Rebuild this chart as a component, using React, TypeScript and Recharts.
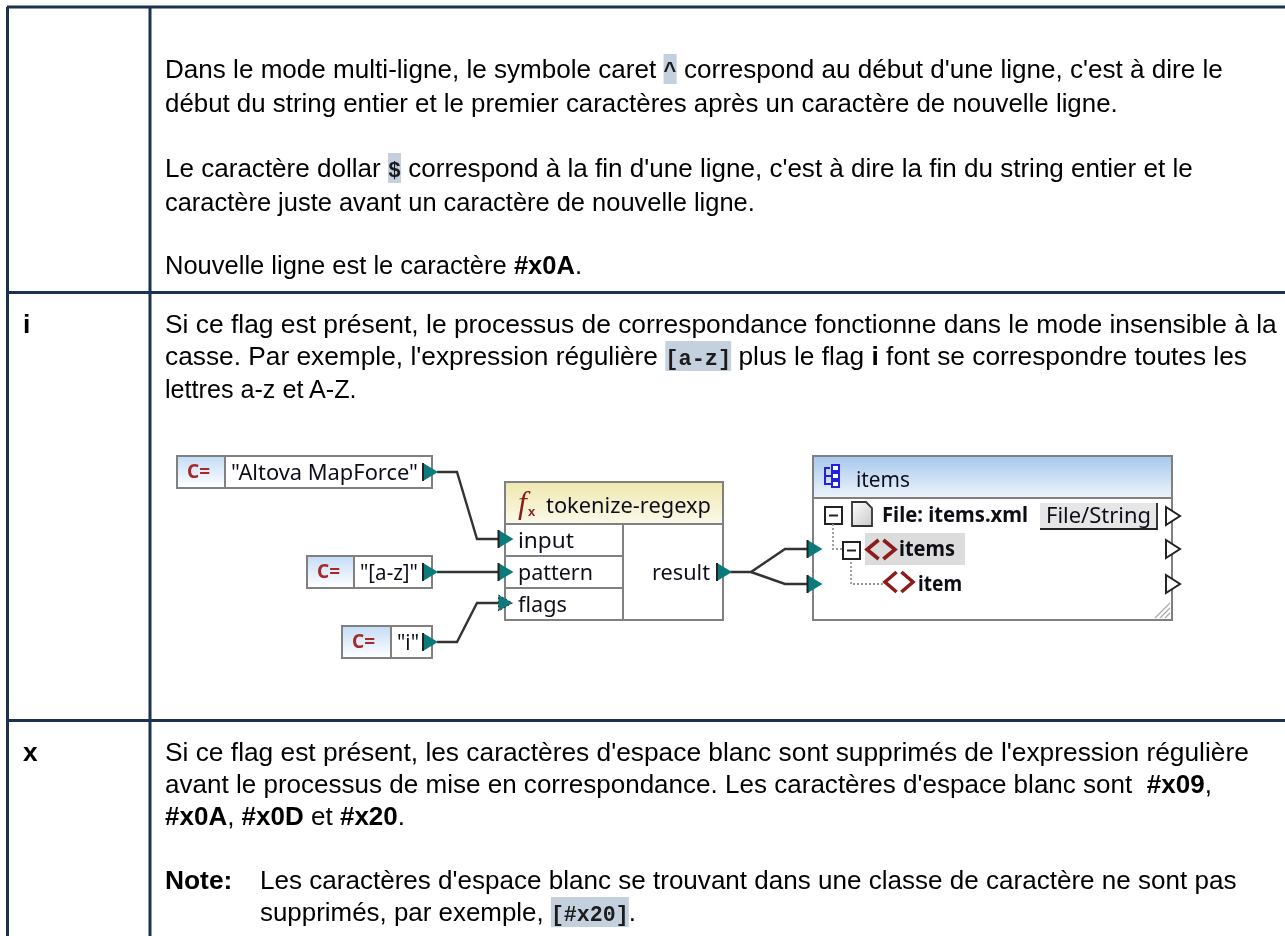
import React from "react";
import { ComposedChart, Customized, XAxis, YAxis, Scatter } from "recharts";

const W = 1285, H = 936;
const RULE = "#1b3350";
const WIRE = "#333333";
const TEAL = "#0b7a7a";
const RED = "#8c1c1c";

// table rules
const ruleLeft = [{ x: 7.5, y: 7 }, { x: 7.5, y: 936 }];
const ruleColumn = [{ x: 150, y: 7 }, { x: 150, y: 936 }];
const ruleTop = [{ x: 7, y: 7 }, { x: 1285, y: 7 }];
const ruleRow2 = [{ x: 7, y: 292.5 }, { x: 1285, y: 292.5 }];
const ruleRow3 = [{ x: 7, y: 720.5 }, { x: 1285, y: 720.5 }];

// mapping connectors
const wireAltova = [{ x: 437, y: 472 }, { x: 457, y: 472 }, { x: 477, y: 539 }, { x: 500, y: 539 }];
const wirePattern = [{ x: 437, y: 572 }, { x: 500, y: 572 }];
const wireFlags = [{ x: 437, y: 642 }, { x: 457, y: 642 }, { x: 477, y: 603 }, { x: 500, y: 603 }];
const wireResultA = [{ x: 730, y: 572 }, { x: 751, y: 572 }, { x: 785, y: 549 }, { x: 808, y: 549 }];
const wireResultB = [{ x: 751, y: 572 }, { x: 785, y: 584 }, { x: 808, y: 584 }];

// connector pins
const solidPins = [
  { x: 430, y: 472 }, { x: 430, y: 572 }, { x: 430, y: 642 },
  { x: 505.5, y: 539 }, { x: 505.5, y: 572 },
  { x: 724, y: 572 }, { x: 814.5, y: 549 }, { x: 814.5, y: 584 },
];
const dashedPins = [{ x: 505.5, y: 603 }];
const hollowPins = [{ x: 1172, y: 516 }, { x: 1172, y: 549 }, { x: 1172, y: 584 }];

type Span = { t: string; b?: boolean; m?: boolean };
const bodyLines: Span[][] = [
  [{ t: "Dans le mode multi-ligne, le symbole caret " }, { t: "^", m: true }, { t: " correspond au début d'une ligne, c'est à dire le" }],
  [{ t: "début du string entier et le premier caractères après un caractère de nouvelle ligne." }],
  [{ t: "Le caractère dollar " }, { t: "$", m: true }, { t: " correspond à la fin d'une ligne, c'est à dire la fin du string entier et le" }],
  [{ t: "caractère juste avant un caractère de nouvelle ligne." }],
  [{ t: "Nouvelle ligne est le caractère " }, { t: "#x0A", b: true }, { t: "." }],
  [{ t: "Si ce flag est présent, le processus de correspondance fonctionne dans le mode insensible à la" }],
  [{ t: "casse. Par exemple, l'expression régulière " }, { t: "[a-z]", m: true }, { t: " plus le flag " }, { t: "i", b: true }, { t: " font se correspondre toutes les" }],
  [{ t: "lettres a-z et A-Z." }],
  [{ t: "Si ce flag est présent, les caractères d'espace blanc sont supprimés de l'expression régulière" }],
  [{ t: "avant le processus de mise en correspondance. Les caractères d'espace blanc sont  " }, { t: "#x09", b: true }, { t: "," }],
  [{ t: "#x0A", b: true }, { t: ", " }, { t: "#x0D", b: true }, { t: " et " }, { t: "#x20", b: true }, { t: "." }],
];
const bodyBaselines = [78, 112, 177, 211, 274, 333, 365, 398, 761, 793, 825];
const bodyEnds = [1223, 1118, 1193, 755, 582, 1277, 1247, 358, 1249, 1212, 405];
const noteLines: Span[][] = [
  [{ t: "Les caractères d'espace blanc se trouvant dans une classe de caractère ne sont pas" }],
  [{ t: "supprimés, par exemple, " }, { t: "[#x20]", m: true }, { t: "." }],
];
const noteBaselines = [889, 921];
const noteEnds = [1237, 636];

const SANS = "'Liberation Sans', Arial, sans-serif";
const MONO = "'Liberation Mono', monospace";
const UI = "'Noto Sans', 'Open Sans', sans-serif";
const SIZE = 26.35;
const MONO_SIZE = 22;

let ctx: CanvasRenderingContext2D | null = null;
function measure(s: string, font: string) {
  if (!ctx) ctx = document.createElement("canvas").getContext("2d");
  ctx!.font = font;
  return ctx!.measureText(s).width;
}

function TextLine({ spans, x, y, end }: { spans: Span[]; x: number; y: number; end?: number }) {
  const pieces = spans.map((s) => {
    const fam = s.m ? MONO : SANS;
    const size = s.m ? MONO_SIZE : SIZE;
    const weight = s.b || s.m ? 700 : 400;
    return { ...s, fam, size, weight, w: measure(s.t, `${weight} ${size}px ${fam}`) };
  });
  const natural = pieces.reduce((a, p) => a + p.w, 0);
  const k = end ? (end - x) / natural : 1;
  let cx = 0;
  return (
    <g transform={`translate(${x} 0) scale(${k} 1)`}>
      {pieces.map((p, i) => {
        const sx = cx;
        cx += p.w;
        return (
          <g key={i}>
            {p.m && <rect x={sx} y={y - 24} width={p.w} height={30} fill="#c5d0de" />}
            <text x={sx} y={y} fontFamily={p.fam} fontSize={p.size} fontWeight={p.weight} fill={p.m ? "#1a1a1a" : "#000"} style={{ whiteSpace: "pre" }}>
              {p.t}
            </text>
          </g>
        );
      })}
    </g>
  );
}

function Label({ x, y, w, t, size = 22, weight = 400, fill = "#10101c" }: any) {
  return (
    <text x={x} y={y} textLength={w} lengthAdjust="spacingAndGlyphs" fontFamily={UI} fontSize={size} fontWeight={weight} fill={fill}>
      {t}
    </text>
  );
}

function ConstBox({ x0, split, y0, y1, t, w }: any) {
  const x1 = 432;
  return (
    <g>
      <rect x={x0} y={y0} width={split - x0} height={y1 - y0} fill="url(#constGrad)" stroke="#808080" strokeWidth={2} />
      <rect x={split} y={y0} width={x1 - split} height={y1 - y0} fill="#fff" stroke="#808080" strokeWidth={2} />
      <text x={x0 + 10} y={y1 - 10} fontFamily={UI} fontSize={19} fontWeight={700} fill="#a52a2a">C=</text>
      <Label x={split + 6} y={y1 - 8} w={w} t={t} size={22} />
    </g>
  );
}

function Angle({ x, y, w, h }: any) {
  return (
    <g fill="none" stroke={RED} strokeWidth={3.6} strokeLinejoin="miter">
      <path d={`M ${x + w * 0.42} ${y} L ${x + 1} ${y + h / 2} L ${x + w * 0.42} ${y + h}`} />
      <path d={`M ${x + w * 0.58} ${y} L ${x + w - 1} ${y + h / 2} L ${x + w * 0.58} ${y + h}`} />
    </g>
  );
}

function Minus({ x, y, s }: any) {
  return (
    <g>
      <rect x={x} y={y} width={s} height={s} fill="#fff" stroke="#222" strokeWidth={2} />
      <line x1={x + 4} x2={x + s - 4} y1={y + s / 2} y2={y + s / 2} stroke="#222" strokeWidth={2} />
    </g>
  );
}

function Sheet() {
  return (
    <g>
      <defs>
        <filter id="soft" x="-2%" y="-2%" width="104%" height="104%"><feGaussianBlur stdDeviation="0.4" /></filter>
        <linearGradient id="constGrad" x1="0" y1="0" x2="0" y2="1"><stop offset="0" stopColor="#c4dcf6" /><stop offset="1" stopColor="#ffffff" /></linearGradient>
        <linearGradient id="fnGrad" x1="0" y1="0" x2="0" y2="1"><stop offset="0" stopColor="#efe8ae" /><stop offset="1" stopColor="#fbf9ea" /></linearGradient>
        <linearGradient id="itemsGrad" x1="0" y1="0" x2="0" y2="1"><stop offset="0" stopColor="#a5c8ec" /><stop offset="1" stopColor="#eef4fb" /></linearGradient>
        <linearGradient id="docGrad" x1="0" y1="0" x2="1" y2="1"><stop offset="0" stopColor="#ffffff" /><stop offset="1" stopColor="#c8c8c8" /></linearGradient>
      </defs>
      <g filter="url(#soft)">
        {bodyLines.map((l, i) => <TextLine key={i} spans={l} x={165} y={bodyBaselines[i]} end={bodyEnds[i]} />)}
        {noteLines.map((l, i) => <TextLine key={i} spans={l} x={260} y={noteBaselines[i]} end={noteEnds[i]} />)}
        <TextLine spans={[{ t: "i", b: true }]} x={23} y={333} />
        <TextLine spans={[{ t: "x", b: true }]} x={23} y={761} />
        <TextLine spans={[{ t: "Note:", b: true }]} x={165} y={889} />
      </g>
      <g filter="url(#soft)">
        <ConstBox x0={177} split={225} y0={456} y1={488} t={'"Altova MapForce"'} w={187} />
        <ConstBox x0={307} split={354} y0={556} y1={588} t={'"[a-z]"'} w={58} />
        <ConstBox x0={342} split={391} y0={626} y1={658} t={'"i"'} w={22} />

        <rect x={505} y={482} width={218} height={138} fill="#fff" stroke="#808080" strokeWidth={2} />
        <rect x={505} y={482} width={218} height={42} fill="url(#fnGrad)" stroke="#808080" strokeWidth={2} />
        <path d="M 505 556 H 623 M 505 588 H 623 M 623 524 V 620" stroke="#808080" strokeWidth={2} fill="none" />
        <text x={518} y={513} fontFamily="'Liberation Serif', serif" fontStyle="italic" fontSize={32} fill={RED}>f</text>
        <text x={528} y={516} fontFamily={SANS} fontSize={13} fontWeight={700} fill={RED}>x</text>
        <Label x={546} y={513} w={165} t="tokenize-regexp" />
        <Label x={518} y={548} w={56} t="input" />
        <Label x={518} y={580} w={75} t="pattern" />
        <Label x={518} y={612} w={49} t="flags" />
        <Label x={652} y={580} w={58} t="result" />

        <rect x={813} y={456} width={359} height={164} fill="#fff" stroke="#808080" strokeWidth={2} />
        <rect x={813} y={456} width={359} height={42} fill="url(#itemsGrad)" stroke="#808080" strokeWidth={2} />
        <g fill="#fff" stroke="#2222dd" strokeWidth={2}>
          <path d="M 830 468 H 825 V 484 H 833 M 825 476 H 833" fill="none" />
          <rect x={832} y={465} width={7} height={6} />
          <rect x={832} y={473} width={7} height={6} />
          <rect x={832} y={481} width={7} height={6} />
        </g>
        <Label x={856} y={487} w={54} t="items" />

        <Minus x={825} y={507} s={17} />
        <path d="M 852 502 H 866 L 872 508 V 526 H 852 Z" fill="url(#docGrad)" stroke="#333" strokeWidth={1.8} />
        <Label x={882} y={522} w={146} t="File: items.xml" size={21} weight={700} fill="#0c0c14" />
        <rect x={1040} y={503} width={117} height={26} fill="#e6e6e6" />
        <path d="M 1040 529 H 1157 V 503" fill="none" stroke="#222" strokeWidth={1.8} />
        <Label x={1046} y={523} w={105} t="File/String" size={21} />

        <path d="M 833 524 V 549 H 843 M 851 558 V 584 H 883" fill="none" stroke="#999" strokeWidth={1.8} strokeDasharray="2 2" />
        <rect x={865} y={533} width={100} height={32} fill="#dcdcdc" />
        <Minus x={843} y={542} s={17} />
        <Angle x={866} y={540} w={30} h={19} />
        <Label x={899} y={556} w={56} t="items" size={21} weight={700} fill="#0c0c14" />
        <Angle x={884} y={572} w={30} h={20} />
        <Label x={918} y={591} w={44} t="item" size={21} weight={700} fill="#0c0c14" />
        <path d="M 1160 618 L 1170 608 M 1165 618 L 1170 613 M 1155 618 L 1170 603" stroke="#aaa" strokeWidth={1.2} />
      </g>
    </g>
  );
}

const noDot = () => <g />;
function SolidPin({ cx, cy }: any) {
  return (
    <g>
      <path d={`M ${cx - 7} ${cy - 9} L ${cx + 8} ${cy} L ${cx - 7} ${cy + 9} Z`} fill={TEAL} />
      <path d={`M ${cx - 7} ${cy - 9} V ${cy + 9}`} stroke="#222" strokeWidth={2} />
    </g>
  );
}
function DashedPin({ cx, cy }: any) {
  return <path d={`M ${cx - 7} ${cy - 8} L ${cx + 7} ${cy} L ${cx - 7} ${cy + 8} Z`} fill={TEAL} stroke="#333" strokeWidth={1} strokeDasharray="2 2" />;
}
function HollowPin({ cx, cy }: any) {
  return <path d={`M ${cx - 6} ${cy - 9} L ${cx + 8} ${cy} L ${cx - 6} ${cy + 9} Z`} fill="#fff" stroke="#222" strokeWidth={2} />;
}

const rules = [ruleLeft, ruleColumn, ruleTop, ruleRow2, ruleRow3];
const wires = [wireAltova, wirePattern, wireFlags, wireResultA, wireResultB];

export default function App() {
  React.useLayoutEffect(() => { document.body.style.margin = "0"; document.body.style.background = "#fff"; }, []);
  return (
    <ComposedChart width={W} height={H} margin={{ top: 0, right: 0, bottom: 0, left: 0 }}>
      <XAxis type="number" dataKey="x" domain={[0, W]} allowDataOverflow hide />
      <YAxis type="number" dataKey="y" domain={[0, H]} reversed allowDataOverflow hide />
      <Customized component={Sheet} />
      {rules.map((d, i) => (
        <Scatter key={`r${i}`} data={d} line={{ stroke: RULE, strokeWidth: 3 }} shape={noDot} isAnimationActive={false} />
      ))}
      {wires.map((d, i) => (
        <Scatter key={`w${i}`} data={d} line={{ stroke: WIRE, strokeWidth: 2.4 }} shape={noDot} isAnimationActive={false} />
      ))}
      <Scatter data={solidPins} shape={SolidPin} isAnimationActive={false} />
      <Scatter data={dashedPins} shape={DashedPin} isAnimationActive={false} />
      <Scatter data={hollowPins} shape={HollowPin} isAnimationActive={false} />
    </ComposedChart>
  );
}
